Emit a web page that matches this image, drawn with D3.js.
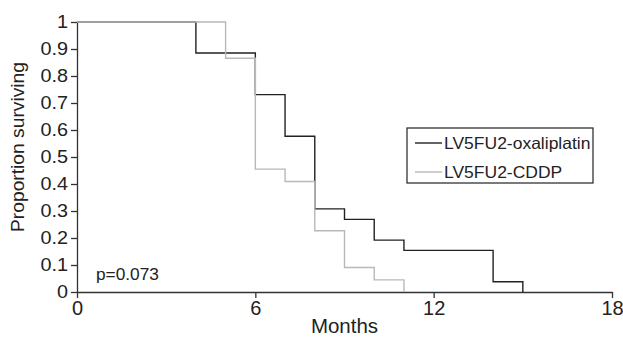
<!DOCTYPE html>
<html>
<head>
<meta charset="utf-8">
<script src="https://cdn.jsdelivr.net/npm/d3@7"></script>
<style>
  body { margin: 0; background: #fff; }
  text { font-family: "Liberation Sans", Arial, sans-serif; fill: #222; }
</style>
</head>
<body>
<div id="chart"></div>
<script>
// --- data ---
const oxaliTimes = [0, 4, 6, 7, 8, 9, 10, 11, 14, 15];
const oxaliSurv  = [1, 0.885, 0.731, 0.577, 0.308, 0.269, 0.192, 0.154, 0.038, 0];
const cddpTimes  = [0, 5, 6, 7, 8, 9, 10, 11];
const cddpSurv   = [1, 0.866, 0.455, 0.409, 0.227, 0.091, 0.045, 0];
const seriesNames = ['LV5FU2-oxaliplatin', 'LV5FU2-CDDP'];
const xTicks = [0, 6, 12, 18];
const yTicks = [0, 0.1, 0.2, 0.3, 0.4, 0.5, 0.6, 0.7, 0.8, 0.9, 1];
const pLabel = 'p=0.073';

const width = 623, height = 337;
const margin = { top: 22, right: 11, bottom: 45, left: 77 };

const svg = d3.select('#chart').append('svg')
  .attr('width', width)
  .attr('height', height);

const x = d3.scaleLinear().domain([0, 18]).range([margin.left, width - margin.right]);
const y = d3.scaleLinear().domain([0, 1]).range([height - margin.bottom, margin.top]);

// axes
const xAxis = svg.append('g')
  .attr('transform', `translate(0,${y(0)})`)
  .call(d3.axisBottom(x).tickValues(xTicks).tickSize(6).tickPadding(3).tickSizeOuter(0));
xAxis.selectAll('text').attr('font-size', 20).attr('font-family', '"Liberation Sans", Arial, sans-serif');

const yAxis = svg.append('g')
  .attr('transform', `translate(${x(0)},0)`)
  .call(d3.axisLeft(y).tickValues(yTicks).tickSize(6).tickFormat(d => d3.format('')(+d.toFixed(1))).tickSizeOuter(0));
yAxis.selectAll('text')
  .attr('font-size', 18)
  .attr('font-family', '"Liberation Sans", Arial, sans-serif')
  .attr('x', 0)
  .attr('transform', 'translate(-9,0) scale(1.1,1)');

svg.selectAll('.domain, .tick line').attr('stroke', '#333').attr('stroke-width', 1.3);
svg.selectAll('.tick text').attr('fill', '#222');

// axis titles
svg.append('text')
  .attr('transform', `translate(${(x(0) + x(18)) / 2},333)`)
  .attr('text-anchor', 'middle')
  .attr('font-size', 20.5)
  .text('Months');

svg.append('text')
  .attr('transform', `translate(24,${(y(0) + y(1)) / 2 - 10}) rotate(-90) scale(1.1,1)`)
  .attr('text-anchor', 'middle')
  .attr('font-size', 17.5)
  .text('Proportion surviving');

// survival curves
const step = d3.line()
  .curve(d3.curveStepAfter)
  .x(d => x(d[0]))
  .y(d => y(d[1]));

const curves = [
  { pts: d3.zip(oxaliTimes, oxaliSurv), color: '#222' },
  { pts: d3.zip(cddpTimes, cddpSurv), color: '#b8b8b8' }
];

svg.selectAll('path.km')
  .data(curves)
  .enter().append('path')
  .attr('class', 'km')
  .attr('d', d => step(d.pts))
  .attr('fill', 'none')
  .attr('stroke', d => d.color)
  .attr('stroke-width', 1.4);

// p value
svg.append('text')
  .attr('transform', `translate(96,279.5) scale(1.08,1)`)
  .attr('font-size', 16)
  .text(pLabel);

// legend
const legend = svg.append('g').attr('transform', 'translate(407,128)');
legend.append('rect')
  .attr('width', 186).attr('height', 55)
  .attr('fill', '#fff').attr('stroke', '#222').attr('stroke-width', 1.2);

const rows = legend.selectAll('g.row')
  .data(seriesNames)
  .enter().append('g')
  .attr('class', 'row')
  .attr('transform', (d, i) => `translate(0,${15 + i * 29})`);
rows.append('line')
  .attr('x1', 8).attr('x2', 35)
  .attr('stroke', (d, i) => curves[i].color)
  .attr('stroke-width', 1.4);
rows.append('text')
  .attr('transform', 'translate(37,6) scale(1.06,1)')
  .attr('font-size', 16.5)
  .text(d => d);
</script>
</body>
</html>
